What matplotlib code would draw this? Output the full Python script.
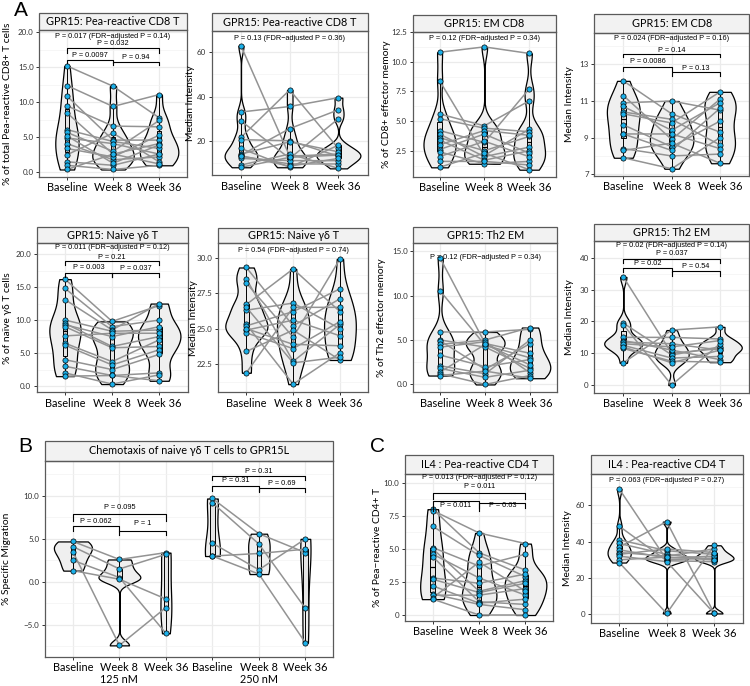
import numpy as np
import matplotlib.pyplot as plt
from matplotlib.patches import Rectangle
from matplotlib.ticker import AutoMinorLocator

plt.rcParams['font.family'] = ['Lato', 'DejaVu Sans']

W, H = 750, 686
groups = ["Baseline", "Week 8", "Week 36"]

# values, one entry per subject (same index = same subject)
# A, row 1
cd8_pct_base = [15.2, 12.4, 10.9, 9.5, 8.5, 6.1, 5.7, 4.9, 4.1, 3.4, 2.5, 1.5, 1.0, 0.4, 5.2]
cd8_pct_wk8 = [12.3, 9.4, 4.6, 6.6, 2.6, 4.4, 3.0, 4.1, 1.8, 2.2, 5.6, 1.0, 0.4, 2.6, 1.3]
cd8_pct_wk36 = [7.8, 11.1, 4.6, 6.5, 4.1, 3.4, 7.4, 2.6, 2.2, 5.3, 1.5, 2.6, 1.0, 1.2, 3.9]

cd8_mi_base = [63, 33, 29, 21.5, 20.5, 16.5, 14, 13.5, 13, 12, 9, 8, 13.2]
cd8_mi_wk8 = [13, 35.5, 12, 43, 20, 8, 19.5, 25.5, 9.5, 11, 14, 12.5, 8.5]
cd8_mi_wk36 = [14, 39.5, 30, 16.5, 13, 18, 15, 34, 9.5, 11, 7.5, 13.5, 12]

em_pct_base = [10.8, 8.4, 5.6, 5.2, 4.2, 3.9, 3.6, 3.4, 3.0, 2.6, 2.4, 2.0, 1.6, 1.1]
em_pct_wk8 = [11.25, 2.1, 4.6, 4.4, 3.2, 2.0, 2.5, 1.7, 4.2, 3.9, 1.4, 3.3, 1.6, 2.3]
em_pct_wk36 = [10.7, 4.3, 6.7, 4.1, 7.7, 2.8, 3.7, 2.5, 3.8, 2.3, 1.6, 2.0, 1.3, 0.9]

em_mi_base = [12.1, 11.3, 10.9, 10.7, 10.4, 10.3, 9.7, 9.2, 9.2, 8.4, 8.3, 7.9]
em_mi_wk8 = [10.3, 8.9, 11.0, 9.4, 10.0, 9.8, 8.5, 9.2, 8.3, 8.0, 8.7, 7.3]
em_mi_wk36 = [9.3, 11.1, 10.5, 10.9, 8.6, 11.5, 9.9, 8.4, 10.6, 8.1, 7.6, 9.0]

# A, row 2
gd_pct_base = [16.2, 14.8, 13.1, 10.0, 9.5, 9.3, 9.0, 7.6, 6.5, 6.2, 4.0, 3.0, 2.0, 1.5]
gd_pct_wk8 = [9.8, 9.0, 8.5, 8.3, 6.0, 7.5, 5.8, 8.0, 3.7, 3.2, 2.5, 1.6, 0.3, 1.6]
gd_pct_wk36 = [12.2, 10.0, 12.5, 8.5, 7.5, 9.0, 6.0, 8.0, 7.0, 5.5, 4.8, 2.0, 1.7, 0.8]

gd_mi_base = [29.3, 28.5, 28.2, 26.7, 26.3, 25.3, 25.2, 24.9, 24.7, 23.4, 21.9, 25.0, 26.5]
gd_mi_wk8 = [25.2, 22.7, 24.4, 29.2, 26.8, 21.1, 26.2, 25.6, 23.6, 24.9, 26.5, 23.9, 22.6]
gd_mi_wk36 = [27.1, 25.3, 29.9, 26.2, 25.0, 23.3, 27.8, 24.5, 25.5, 22.8, 26.5, 23.8, 23.0]

th2_pct_base = [14.2, 10.5, 5.9, 5.0, 4.9, 4.5, 4.2, 3.3, 2.1, 1.8, 1.4, 1.2, 1.0]
th2_pct_wk8 = [4.6, 4.4, 5.9, 4.2, 1.7, 5.0, 4.8, 2.0, 1.2, 0.8, 4.5, 0.0, 1.5]
th2_pct_wk36 = [3.5, 3.0, 6.2, 1.8, 4.6, 6.4, 1.3, 2.8, 5.0, 1.6, 2.2, 1.0, 0.7]

th2_mi_base = [34, 19.5, 19.0, 15, 14, 13.5, 12.5, 11.5, 7, 13, 12]
th2_mi_wk8 = [10, 9.5, 0, 15, 11, 13, 8.5, 7.5, 17.3, 12, 7]
th2_mi_wk36 = [11.5, 12, 13, 14.5, 8, 11, 9, 7.2, 18.3, 14, 11]

# B, chemotaxis (125 nM then 250 nM)
chemo125_base = [4.7, 4.1, 3.5, 2.5, 1.3]
chemo125_wk8 = [2.6, 1.5, -7.4, 0.5, 0.3]
chemo125_wk36 = [3.4, 3.2, -3.0, -6.0, -2.0]
chemo250_base = [9.7, 9.2, 4.5, 3.0, 3.0]
chemo250_wk8 = [5.6, 4.4, 1.4, 3.3, 0.9]
chemo250_wk36 = [3.4, -3.1, 5.0, 3.8, -7.1]

# C
il4_pct_base = [8.0, 7.9, 6.7, 5.1, 5.0, 4.6, 4.4, 2.8, 2.7, 2.2, 1.6, 1.5, 1.3, 1.2]
il4_pct_wk8 = [4.7, 6.2, 4.5, 3.7, 1.8, 2.8, 1.0, 2.4, 1.7, 0.9, 0.8, 1.5, 4.0, 0.0]
il4_pct_wk36 = [3.4, 5.4, 2.9, 4.6, 2.6, 1.5, 0.8, 3.1, 2.4, 1.2, 0.4, 2.0, 1.8, 0.0]

il4_mi_base = [69, 48.5, 41, 39, 37, 35.5, 34, 33, 32, 30, 28.5]
il4_mi_wk8 = [30, 29.5, 35, 33, 51, 31, 32, 36, 29, 31.5, 0.5]
il4_mi_wk36 = [31, 29, 33, 30, 0.5, 32, 36, 34, 0.5, 30, 38]

VIOLIN = '#EFEFEF'
BOX = '#E4E4E4'
DOT = '#1BB0E9'
LINE = '#939393'
FRAME = '#5A5A5A'
PFONT = ['Liberation Sans', 'DejaVu Sans']

fig = plt.figure(figsize=(W / 100, H / 100), dpi=100)


def nrd0(x):
    x = np.asarray(x, float)
    sd = x.std(ddof=1)
    iqr = np.subtract(*np.percentile(x, [75, 25]))
    lo = min(sd, iqr / 1.34) if iqr > 0 else sd
    return 0.9 * lo * len(x) ** -0.2


def kde(x, grid):
    h = nrd0(x)
    z = (grid[:, None] - np.asarray(x, float)[None, :]) / h
    return np.exp(-0.5 * z ** 2).sum(1) / (len(x) * h * np.sqrt(2 * np.pi))


def panel(box, strip_top, title, ylabel, ylab_x, series, ylim, ticks, ticklabels,
          ptext=None, brackets=(), xlabels=groups):
    l, t, r, b = box
    ax = fig.add_axes([l / W, 1 - b / H, (r - l) / W, (b - t) / H])
    n = len(series)
    pos = np.arange(1, n + 1)
    ax.set_xlim(0.4, n + 0.6)
    ax.set_ylim(*ylim)

    # violins, ggplot style (trimmed, equal area)
    grids = [np.linspace(min(s), max(s), 256) for s in series]
    dens = [kde(s, g) for s, g in zip(series, grids)]
    peak = max(d.max() for d in dens)
    for p, g, d in zip(pos, grids, dens):
        w = 0.45 * d / peak
        ax.fill_betweenx(g, p - w, p + w, facecolor=VIOLIN, edgecolor='black',
                         lw=0.9, zorder=2)

    ax.boxplot(series, positions=pos, widths=0.1, patch_artist=True,
               showfliers=False, showcaps=False, manage_ticks=False, zorder=3,
               boxprops=dict(facecolor=BOX, edgecolor='black', linewidth=0.7),
               whiskerprops=dict(color='black', linewidth=0.7),
               medianprops=dict(color='black', linewidth=0.9))

    # paired lines, connected within each block of three time points
    for k in range(0, n, 3):
        for vals in zip(*series[k:k + 3]):
            ax.plot(pos[k:k + 3], vals, color=LINE, lw=1.1, zorder=4)
    for p, s in zip(pos, series):
        ax.scatter(np.full(len(s), p), s, s=14, c=DOT, edgecolors='black',
                   linewidths=0.5, zorder=5)

    ax.set_xticks(pos)
    ax.set_xticklabels(xlabels * (n // 3), fontsize=7.9)
    ax.set_yticks(ticks)
    ax.set_yticklabels(ticklabels, fontsize=5.8, color='#333333')
    ax.yaxis.set_minor_locator(AutoMinorLocator(2))
    ax.grid(which='major', color='#EBEBEB', lw=0.9)
    ax.grid(which='minor', axis='y', color='#F3F3F3', lw=0.5)
    ax.set_axisbelow(True)
    ax.tick_params(which='major', length=2.5, width=0.7, color='#333333', pad=1.5)
    ax.tick_params(which='minor', length=0)
    for sp in ax.spines.values():
        sp.set_color(FRAME)
        sp.set_linewidth(0.9)

    # facet strip
    sh = (t - strip_top) / (b - t)
    ax.add_patch(Rectangle((0, 1), 1, sh, transform=ax.transAxes, facecolor='#F2F2F2',
                           edgecolor=FRAME, lw=0.9, clip_on=False))
    ax.text(0.5, 1 + sh / 2, title, transform=ax.transAxes, ha='center',
            va='center', fontsize=7.8)
    fig.text(ylab_x / W, 1 - (t + b) / 2 / H, ylabel, rotation=90, ha='center',
             va='center', fontsize=7.4)

    if ptext:
        ax.text(2, ptext[1], ptext[0], ha='center', va='center', fontsize=5.3,
                family=PFONT, zorder=6)
    for x1, x2, yl, ytip, yt, lab in brackets:
        ax.plot([x1, x1, x2, x2], [ytip, yl, yl, ytip], color='black', lw=0.8,
                zorder=6)
        ax.text((x1 + x2) / 2, yt, lab, ha='center', va='center', fontsize=5.3,
                family=PFONT, zorder=6)
    return ax


# ---- A, row 1 ----
panel((39.3, 30, 186.7, 176.7), 13.3, "GPR15: Pea-reactive CD8 T",
      "% of total Pea-reactive CD8+ T cells", 8,
      [cd8_pct_base, cd8_pct_wk8, cd8_pct_wk36], (-0.63, 20.33),
      [0, 5, 10, 15, 20], ["0.0", "5.0", "10.0", "15.0", "20.0"],
      ("P = 0.017 (FDR\u2212adjusted P = 0.14)", 19.35),
      [(1, 3, 17.7, 17.0, 18.4, "P = 0.032"),
       (1, 2, 16.1, 15.6, 16.75, "P = 0.0097"),
       (2, 3, 15.8, 15.3, 16.4, "P = 0.94")])

panel((211.7, 30.7, 367.7, 175), 13.3, "GPR15: Pea-reactive CD8 T",
      "Median Intensity", 190,
      [cd8_mi_base, cd8_mi_wk8, cd8_mi_wk36], (4.5, 69.8),
      [20, 40, 60], ["20", "40", "60"],
      ("P = 0.13 (FDR\u2212adjusted P = 0.36)", 66.3))

panel((412.7, 31.7, 556, 176.7), 15, "GPR15: EM CD8",
      "% of CD8+ effector memory", 386,
      [em_pct_base, em_pct_wk8, em_pct_wk36], (0.31, 12.53),
      [2.5, 5, 7.5, 10, 12.5], ["2.5", "5.0", "7.5", "10.0", "12.5"],
      ("P = 0.12 (FDR\u2212adjusted P = 0.34)", 11.97))

panel((594.3, 32.7, 749, 175.7), 14, "GPR15: EM CD8",
      "Median Intensity", 570,
      [em_mi_base, em_mi_wk8, em_mi_wk36], (6.92, 14.73),
      [7, 9, 11, 13], ["7", "9", "11", "13"],
      ("P = 0.024 (FDR\u2212adjusted P = 0.16)", 14.42),
      [(1, 3, 13.56, 13.38, 13.78, "P = 0.14"),
       (1, 2, 12.87, 12.65, 13.14, "P = 0.0086"),
       (2, 3, 12.6, 12.37, 12.8, "P = 0.13")])

# ---- A, row 2 ----
panel((36.7, 243.3, 187.5, 392), 227.3, "GPR15: Naive \u03b3\u03b4 T",
      "% of na\u00efve \u03b3\u03b4 T cells", 8,
      [gd_pct_base, gd_pct_wk8, gd_pct_wk36], (-0.9, 21.63),
      [0, 5, 10, 15, 20], ["0.0", "5.0", "10.0", "15.0", "20.0"],
      ("P = 0.011 (FDR\u2212adjusted P = 0.12)", 20.96),
      [(1, 3, 18.94, 18.3, 19.5, "P = 0.21"),
       (1, 2, 17.2, 16.5, 17.9, "P = 0.003"),
       (2, 3, 17.2, 16.5, 17.85, "P = 0.037")])

panel((218.3, 243.3, 368, 392), 228, "GPR15: Naive \u03b3\u03b4 T",
      "Median Intensity", 193,
      [gd_mi_base, gd_mi_wk8, gd_mi_wk36], (20.55, 31.0),
      [22.5, 25, 27.5, 30], ["22.5", "25.0", "27.5", "30.0"],
      ("P = 0.54 (FDR\u2212adjusted P = 0.74)", 30.47))

panel((413.3, 243.3, 557, 392), 227, "GPR15: Th2 EM",
      "% of Th2 effector memory", 382,
      [th2_pct_base, th2_pct_wk8, th2_pct_wk36], (-0.85, 15.87),
      [0, 5, 10, 15], ["0.0", "5.0", "10.0", "15.0"],
      ("P = 0.12 (FDR\u2212adjusted P = 0.34)", 14.27))

panel((594.3, 240.7, 749, 392.7), 224, "GPR15: Th2 EM",
      "Median Intensity", 570,
      [th2_mi_base, th2_mi_wk8, th2_mi_wk36], (-2.4, 45.4),
      [0, 10, 20, 30, 40], ["0", "10", "20", "30", "40"],
      ("P = 0.02 (FDR\u2212adjusted P = 0.14)", 44.0),
      [(1, 3, 39.8, 38.3, 41.4, "P = 0.037"),
       (1, 2, 36.9, 35.6, 38.3, "P = 0.02"),
       (2, 3, 35.8, 34.3, 37.4, "P = 0.54")])

# ---- B ----
axb = panel((45, 460.7, 333.3, 656.7), 441, "Chemotaxis of naive \u03b3\u03b4 T cells to GPR15L",
            "% Specific Migration", 7,
            [chemo125_base, chemo125_wk8, chemo125_wk36,
             chemo250_base, chemo250_wk8, chemo250_wk36], (-8.72, 14.1),
            [-5, 0, 5, 10], ["\u22125.0", "0.0", "5.0", "10.0"],
            None,
            [(1, 3, 7.95, 7.1, 8.65, "P = 0.095"),
             (1, 2, 6.45, 5.87, 7.0, "P = 0.062"),
             (2, 3, 5.95, 5.5, 6.77, "P = 1"),
             (4, 6, 12.3, 11.85, 12.85, "P = 0.31"),
             (4, 5, 11.13, 10.6, 11.75, "P = 0.31"),
             (5, 6, 10.93, 10.46, 11.5, "P = 0.69")])
for xc, lab in [(2, "125 nM"), (5, "250 nM")]:
    axb.text(xc, -(679.5 - 656.7) / 196, lab, transform=axb.get_xaxis_transform(),
             ha='center', va='center', fontsize=7.8)

# ---- C ----
panel((405, 474, 553.3, 620.7), 455, "IL4 : Pea-reactive CD4 T",
      "% of Pea\u2212reactive CD4+ T", 377,
      [il4_pct_base, il4_pct_wk8, il4_pct_wk36], (-0.43, 10.66),
      [0, 2.5, 5, 7.5, 10], ["0", "2.5", "5.0", "7.5", "10.0"],
      ("P = 0.013 (FDR\u2212adjusted P = 0.12)", 10.4),
      [(1, 3, 9.25, 8.8, 9.7, "P = 0.011"),
       (1, 2, 8.6, 7.9, 8.3, "P = 0.011"),
       (2, 3, 8.5, 8.06, 8.25, "P = 0.63")])

panel((590.7, 474, 742.7, 622.7), 455, "IL4 : Pea-reactive CD4 T",
      "Median Intensity", 568,
      [il4_mi_base, il4_mi_wk8, il4_mi_wk36], (-4.6, 77.2),
      [0, 20, 40, 60], ["0", "20", "40", "60"],
      ("P = 0.063 (FDR\u2212adjusted P = 0.27)", 73.5))

# panel letters
for x, y, letter in [(21, 11, "A"), (25, 446, "B"), (377, 446, "C")]:
    fig.text(x / W, 1 - y / H, letter, ha='center', va='center', fontsize=15,
             family=PFONT)

fig.savefig("out.png", dpi=100)
